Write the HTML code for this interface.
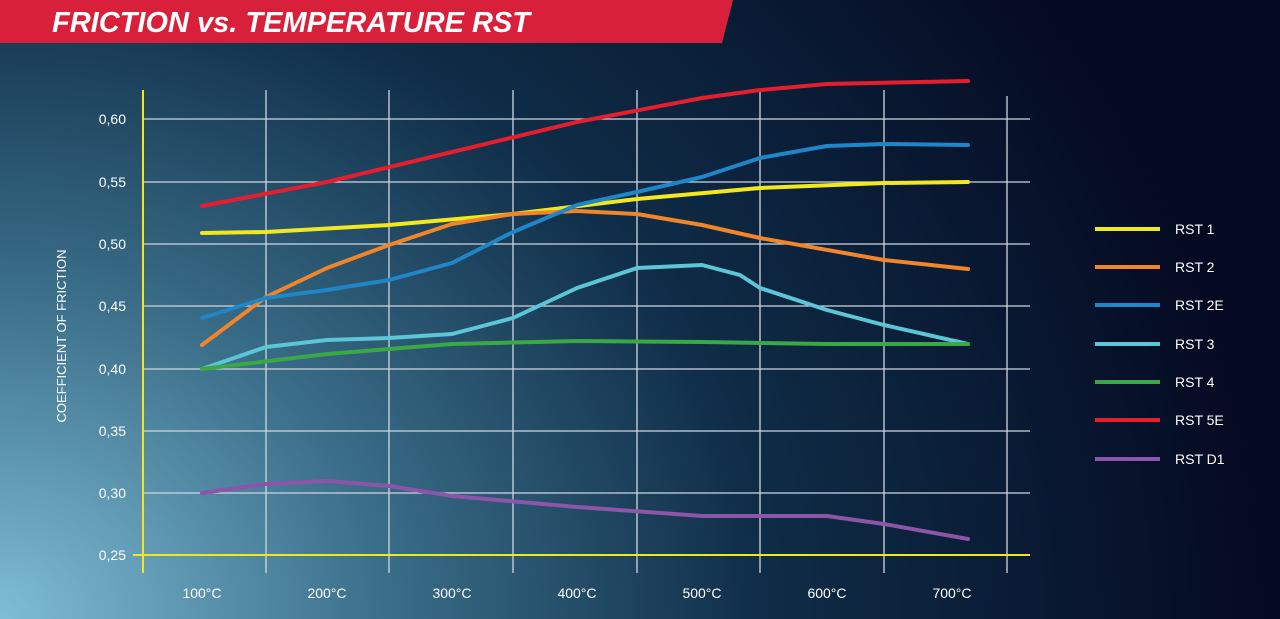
<!DOCTYPE html>
<html><head><meta charset="utf-8"><style>
html,body{margin:0;padding:0;width:1280px;height:619px;overflow:hidden;background:#050a22;}
</style></head><body>
<svg width="1280" height="619" viewBox="0 0 1280 619" xmlns="http://www.w3.org/2000/svg" font-family="Liberation Sans, sans-serif">
<defs>
<radialGradient id="bg" cx="0" cy="1" r="1.1" gradientTransform="scale(0.9,1.6) translate(0,-0.375)">
<stop offset="0" stop-color="#7fbdd6"/>
<stop offset="0.3" stop-color="#3b6f8a"/>
<stop offset="0.6" stop-color="#0f2d48"/>
<stop offset="1" stop-color="#050a22"/>
</radialGradient>
</defs>
<rect width="1280" height="619" fill="#050a22"/>
<rect width="1280" height="619" fill="url(#bg)"/>
<polygon points="0,0 733,0 722,43 0,43" fill="#d9203a"/>
<text x="52" y="32" fill="#fff" font-size="29" font-weight="bold" font-style="italic">FRICTION vs. TEMPERATURE RST</text>
<g stroke="#cfd6e0" stroke-width="1.3">
<line x1="143" y1="119" x2="1030" y2="119"/>
<line x1="143" y1="182" x2="1030" y2="182"/>
<line x1="143" y1="244" x2="1030" y2="244"/>
<line x1="143" y1="306" x2="1030" y2="306"/>
<line x1="143" y1="369" x2="1030" y2="369"/>
<line x1="143" y1="431" x2="1030" y2="431"/>
<line x1="143" y1="493" x2="1030" y2="493"/>
<line x1="266" y1="90" x2="266" y2="573"/>
<line x1="389" y1="90" x2="389" y2="573"/>
<line x1="513" y1="90" x2="513" y2="573"/>
<line x1="637" y1="90" x2="637" y2="573"/>
<line x1="760" y1="90" x2="760" y2="573"/>
<line x1="884" y1="90" x2="884" y2="573"/>
<line x1="1007" y1="96" x2="1007" y2="573"/>
</g>
<line x1="143" y1="90" x2="143" y2="573" stroke="#f5e61a" stroke-width="2"/>
<line x1="133" y1="555" x2="1030" y2="555" stroke="#f5e61a" stroke-width="2"/>
<g fill="#fff" font-size="14" text-anchor="end">
<text x="126" y="124">0,60</text><text x="126" y="187">0,55</text><text x="126" y="249">0,50</text>
<text x="126" y="311">0,45</text><text x="126" y="374">0,40</text><text x="126" y="436">0,35</text>
<text x="126" y="498">0,30</text><text x="126" y="560">0,25</text>
</g>
<g fill="#fff" font-size="14" text-anchor="middle">
<text x="202" y="598">100°C</text><text x="327" y="598">200°C</text><text x="452" y="598">300°C</text>
<text x="577" y="598">400°C</text><text x="702" y="598">500°C</text><text x="827" y="598">600°C</text><text x="952" y="598">700°C</text>
</g>
<text transform="translate(66,336) rotate(-90)" fill="#fff" font-size="13" text-anchor="middle">COEFFICIENT OF FRICTION</text>
<g fill="none" stroke-width="4" stroke-linejoin="round" stroke-linecap="round">
<polyline stroke="#f2e81e" points="202,233 266,232 389,225 513,214 637,199 760,188 884,183 968,182"/>
<polyline stroke="#f0852a" points="202,345 266,297 327,268 389,245 452,224 513,214 577,211 637,214 702,225 760,238 884,260 968,269"/>
<polyline stroke="#1f86c8" points="202,318 266,298 327,290 389,280 452,263 513,232 577,205 637,192 702,177 760,158 827,146 884,144 968,145"/>
<polyline stroke="#5cc5d6" points="202,369 266,347 327,340 389,338 452,334 513,318 577,288 637,268 702,265 740,275 760,288 827,310 884,325 968,344"/>
<polyline stroke="#3aa845" points="202,369 327,354 452,344 577,341 702,342 827,344 968,344"/>
<polyline stroke="#e51e2e" points="202,206 327,182 452,152 577,122 702,98 760,90 827,84 968,81"/>
<polyline stroke="#8b55a8" points="202,493 266,484 327,481 389,486 452,496 577,507 702,516 827,516 884,524 968,539"/>
</g>
<g stroke-width="4">
<line x1="1095" y1="229" x2="1160" y2="229" stroke="#f2e81e"/>
<line x1="1095" y1="267" x2="1160" y2="267" stroke="#f0852a"/>
<line x1="1095" y1="305" x2="1160" y2="305" stroke="#1f86c8"/>
<line x1="1095" y1="344" x2="1160" y2="344" stroke="#5cc5d6"/>
<line x1="1095" y1="382" x2="1160" y2="382" stroke="#3aa845"/>
<line x1="1095" y1="420" x2="1160" y2="420" stroke="#e51e2e"/>
<line x1="1095" y1="459" x2="1160" y2="459" stroke="#8b55a8"/>
</g>
<g fill="#fff" font-size="14">
<text x="1175" y="234">RST 1</text><text x="1175" y="272">RST 2</text><text x="1175" y="310">RST 2E</text>
<text x="1175" y="349">RST 3</text><text x="1175" y="387">RST 4</text><text x="1175" y="425">RST 5E</text><text x="1175" y="464">RST D1</text>
</g>
</svg>
</body></html>
